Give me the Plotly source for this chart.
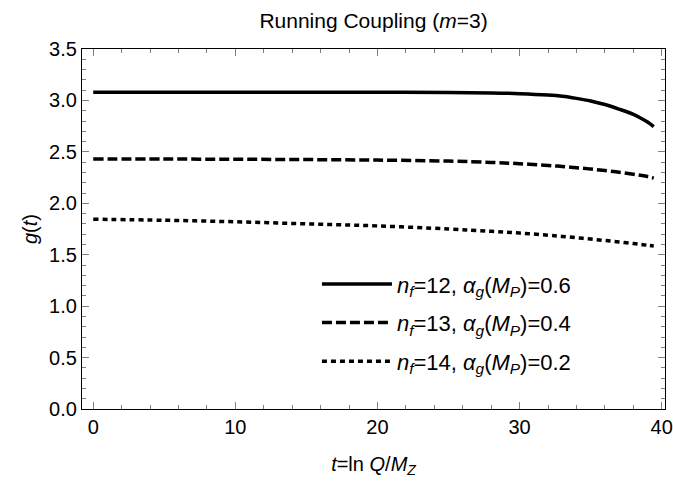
import plotly.graph_objects as go

# t = ln Q/M_Z
t_vals = [0, 5, 10, 15, 20, 25, 28, 30, 32, 33, 34, 35, 36, 37, 38, 38.5, 39, 39.44]
g_nf12 = [3.08, 3.08, 3.08, 3.08, 3.08, 3.078, 3.073, 3.066, 3.052, 3.04, 3.02, 2.995,
          2.96, 2.915, 2.865, 2.83, 2.79, 2.745]
g_nf13 = [2.43, 2.43, 2.428, 2.425, 2.42, 2.41, 2.397, 2.385, 2.368, 2.358, 2.345, 2.333,
          2.318, 2.302, 2.283, 2.272, 2.26, 2.245]
g_nf14 = [1.845, 1.835, 1.82, 1.80, 1.78, 1.75, 1.728, 1.71, 1.69, 1.678, 1.665, 1.652,
          1.638, 1.624, 1.608, 1.6, 1.592, 1.585]

names = [
    "<i>n</i><sub><i>f</i></sub>=12, <i>α</i><sub><i>g</i></sub>(<i>M</i><sub><i>P</i></sub>)=0.6",
    "<i>n</i><sub><i>f</i></sub>=13, <i>α</i><sub><i>g</i></sub>(<i>M</i><sub><i>P</i></sub>)=0.4",
    "<i>n</i><sub><i>f</i></sub>=14, <i>α</i><sub><i>g</i></sub>(<i>M</i><sub><i>P</i></sub>)=0.2",
]
series = [g_nf12, g_nf13, g_nf14]
dashes = ["solid", "10px,4px", "5px,4px"]

x_ticks = [0, 10, 20, 30, 40]
y_ticks = [0.0, 0.5, 1.0, 1.5, 2.0, 2.5, 3.0, 3.5]

fig = go.Figure()
for i, (nm, ys, d) in enumerate(zip(names, series, dashes)):
    fig.add_trace(go.Scatter(x=t_vals, y=ys, mode="lines", name=nm, legendgroup=f"g{i}",
                             line=dict(color="black", width=3.5, dash=d, shape="spline")))

axis_common = dict(
    showline=True, linecolor="black", linewidth=1.2, mirror="allticks",
    ticks="inside", ticklen=7, tickcolor="#808080", tickwidth=1,
    showgrid=False, zeroline=False, automargin=False,
    tickfont=dict(size=20, color="black"),
)

fig.update_layout(
    width=673, height=482,
    margin=dict(l=82, r=8, t=49, b=73),
    paper_bgcolor="white", plot_bgcolor="white",
    font=dict(family="Liberation Sans, Arial, sans-serif", color="black"),
    title=dict(text="Running Coupling (<i>m</i>=3)", x=0.555, xanchor="center",
               y=0.958, yanchor="middle", font=dict(size=21)),
    xaxis=dict(range=[-0.79, 40.23], tickvals=x_ticks,
               minor=dict(ticks="inside", dtick=2, tick0=0, ticklen=4, tickcolor="#808080"),
               title=dict(text="<i>t</i>=ln <i>Q</i>/<i>M</i><sub><i>Z</i></sub>",
                          font=dict(size=20), standoff=19),
               **axis_common),
    yaxis=dict(range=[0, 3.5], tickvals=y_ticks, tickformat=".1f",
               minor=dict(ticks="inside", dtick=0.1, tick0=0, ticklen=4, tickcolor="#808080"),
               title=dict(text="<i>g</i>(<i>t</i>)", font=dict(size=20), standoff=6),
               **axis_common),
    legend=dict(x=0.403, y=0.405, xanchor="left", yanchor="top",
                bgcolor="rgba(0,0,0,0)", font=dict(size=22),
                tracegroupgap=7, itemwidth=70),
)

fig.write_html(
    "out.html",
    config={"displayModeBar": False},
    post_script="document.body.style.margin='0';document.body.style.overflow='hidden';"
                "document.documentElement.style.overflow='hidden';",
)
